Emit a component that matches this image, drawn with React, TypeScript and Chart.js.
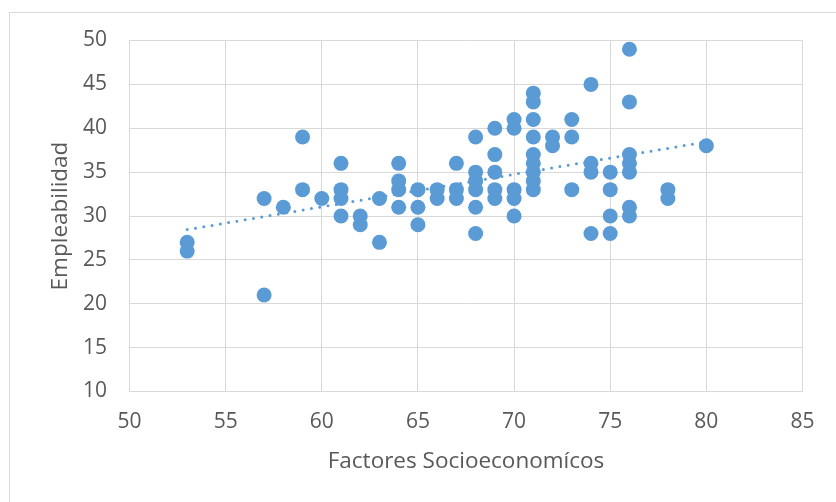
import React, { useEffect, useRef } from "react";
import { Chart, registerables } from "chart.js";

Chart.register(...registerables);

// Factores Socioeconómicos (x) and Empleabilidad (y), one entry per point
const FACTORES = [
  53, 53, 57, 57, 58, 59, 59, 60, 61, 61, 61, 61, 62, 62, 63, 63,
  64, 64, 64, 64, 65, 65, 65, 66, 66, 67, 67, 67,
  68, 68, 68, 68, 68, 68, 69, 69, 69, 69, 69, 70, 70, 70, 70, 70,
  71, 71, 71, 71, 71, 71, 71, 71, 71, 72, 72, 73, 73, 73,
  74, 74, 74, 74, 75, 75, 75, 75, 76, 76, 76, 76, 76, 76, 76, 78, 78, 80,
];
const EMPLEABILIDAD = [
  27, 26, 32, 21, 31, 39, 33, 32, 36, 33, 32, 30, 30, 29, 32, 27,
  36, 34, 33, 31, 33, 31, 29, 33, 32, 36, 33, 32,
  39, 35, 34, 33, 31, 28, 40, 37, 35, 33, 32, 41, 40, 33, 32, 30,
  44, 43, 41, 39, 37, 36, 35, 34, 33, 39, 38, 41, 39, 33,
  45, 36, 35, 28, 35, 33, 30, 28, 49, 43, 37, 36, 35, 31, 30, 33, 32, 38,
];

// Linear trendline end points
const TREND_X = [53, 80];
const TREND_Y = [28.45, 38.45];

const X_TITLE = "Factores Socioeconomícos";
const Y_TITLE = "Empleabilidad";

const BLUE = "#5b9bd5";
const GRID = "#d9d9d9";
const TEXT = "#595959";
const FONT = "'Open Sans', sans-serif";

export default function App() {
  const canvasRef = useRef<HTMLCanvasElement | null>(null);

  useEffect(() => {
    if (!canvasRef.current) return;
    const points = FACTORES.map((x, i) => ({ x, y: EMPLEABILIDAD[i] }));
    const trend = TREND_X.map((x, i) => ({ x, y: TREND_Y[i] }));

    const chart = new Chart(canvasRef.current, {
      type: "scatter",
      data: {
        datasets: [
          {
            type: "line",
            label: "Lineal",
            data: trend,
            borderColor: BLUE,
            borderWidth: 3,
            borderDash: [0, 8.4],
            borderCapStyle: "round",
            pointRadius: 0,
            fill: false,
            order: 0,
          } as any,
          {
            label: "Empleabilidad",
            data: points,
            backgroundColor: BLUE,
            borderWidth: 0,
            pointRadius: 7.5,
            pointBorderWidth: 0,
            order: 1,
          },
        ],
      },
      options: {
        animation: false,
        responsive: false,
        maintainAspectRatio: false,
        devicePixelRatio: 1,
        layout: { padding: { left: 0, top: 40.5, right: 33.5, bottom: 0 } },
        plugins: {
          legend: { display: false },
          tooltip: { enabled: false },
        },
        scales: {
          x: {
            type: "linear",
            position: "bottom",
            min: 50,
            max: 85,
            ticks: {
              stepSize: 5,
              padding: 18,
              color: TEXT,
              maxRotation: 0,
              font: { family: FONT, size: 21 },
            },
            grid: { color: GRID, lineWidth: 1, drawTicks: false },
            border: { color: GRID, width: 1 },
            title: {
              display: true,
              text: X_TITLE,
              color: TEXT,
              font: { family: FONT, size: 22.5 },
              padding: { top: 0, bottom: 27 },
            },
            afterFit: (s: any) => {
              s.height = 110.5;
            },
          },
          y: {
            type: "linear",
            min: 10,
            max: 50,
            ticks: {
              stepSize: 5,
              padding: 22.5,
              color: TEXT,
              font: { family: FONT, size: 21 },
            },
            grid: { color: GRID, lineWidth: 1, drawTicks: false },
            border: { color: GRID, width: 1 },
            title: {
              display: true,
              text: Y_TITLE,
              color: TEXT,
              font: { family: FONT, size: 22.5 },
              padding: { top: 47, bottom: 0 },
            },
            afterFit: (s: any) => {
              s.width = 129.5;
            },
          },
        },
      },
    });
    return () => chart.destroy();
  }, []);

  return (
    <div
      style={{
        position: "fixed",
        left: 0,
        top: 0,
        width: 836,
        height: 502,
        overflow: "hidden",
        background: "#ffffff",
      }}
    >
      <div
        style={{
          position: "absolute",
          left: 9,
          top: 12,
          width: 900,
          height: 600,
          border: `1px solid ${GRID}`,
          boxSizing: "border-box",
        }}
      />
      <canvas
        ref={canvasRef}
        width={836}
        height={502}
        style={{ position: "absolute", left: 0, top: 0, display: "block" }}
      />
    </div>
  );
}
